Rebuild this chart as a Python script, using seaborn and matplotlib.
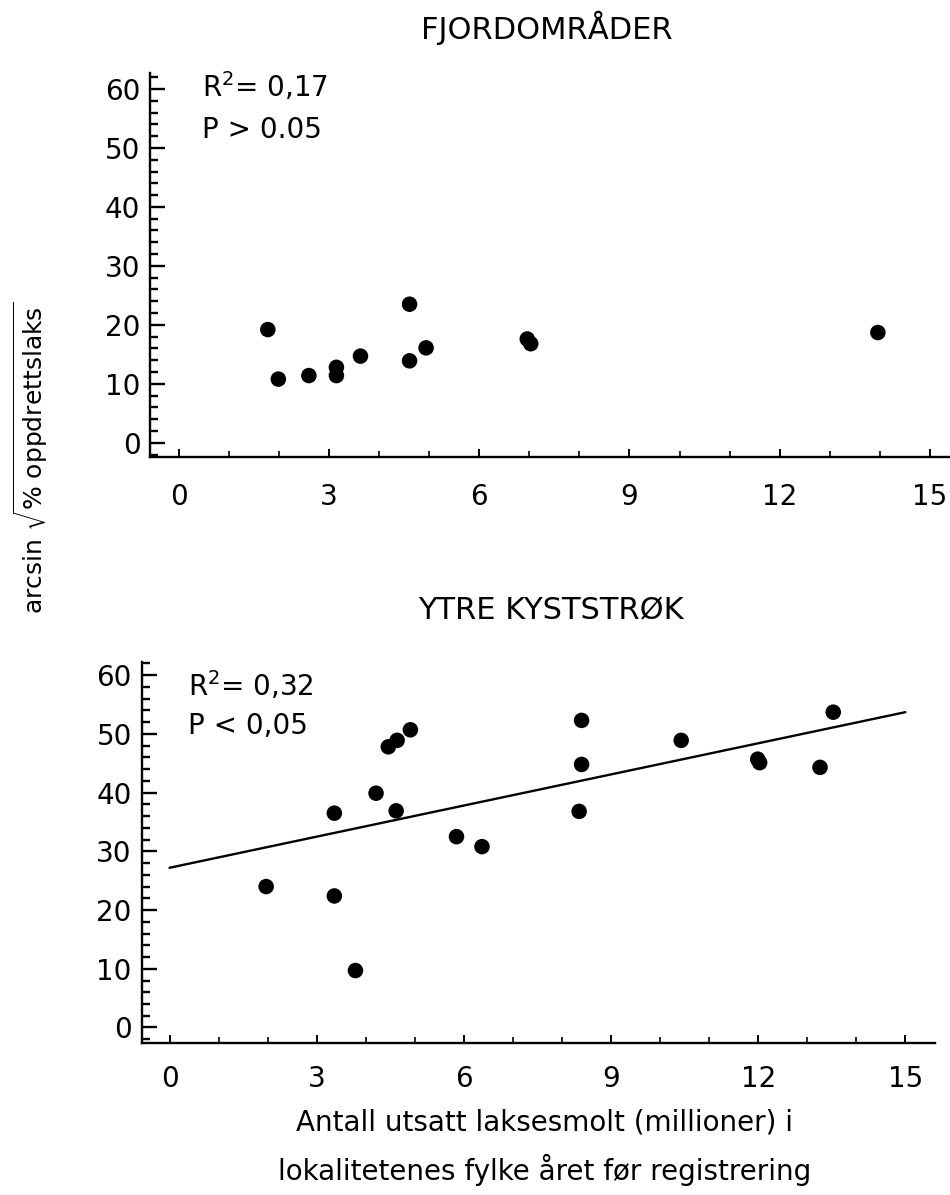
import numpy as np
import pandas as pd
import matplotlib
matplotlib.use("Agg")
import matplotlib.pyplot as plt
import seaborn as sns
from matplotlib.ticker import MultipleLocator

# ---- data ----
fjord_x = [1.78, 1.99, 2.60, 3.15, 3.15, 3.63, 4.61, 4.61, 4.94, 6.96, 7.03, 13.96]
fjord_y = [19.2, 10.8, 11.4, 12.8, 11.4, 14.7, 23.5, 13.9, 16.1, 17.6, 16.8, 18.7]

kyst_x = [1.97, 3.36, 3.36, 3.79, 4.21, 4.46, 4.64, 4.91, 4.62, 5.85, 6.37,
          8.40, 8.40, 8.35, 10.43, 11.99, 12.03, 13.26, 13.53]
kyst_y = [24.0, 36.5, 22.4, 9.7, 39.9, 47.8, 48.9, 50.7, 36.9, 32.5, 30.8,
          52.3, 44.8, 36.8, 48.9, 45.7, 45.1, 44.3, 53.7]

# fitted line shown in lower panel (endpoints)
line_x = [0, 15]
line_y = [27.2, 53.7]

x_ticks = [0, 3, 6, 9, 12, 15]
y_ticks = [0, 10, 20, 30, 40, 50, 60]

titles = ["FJORDOMRÅDER", "YTRE KYSTSTRØK"]
stats = [("R$^2$= 0,17", "P > 0.05"), ("R$^2$= 0,32", "P < 0,05")]

sns.set_style("ticks")
plt.rcParams["font.family"] = ["DejaVu Sans"]
plt.rcParams["mathtext.fontset"] = "dejavusans"
plt.rcParams["text.color"] = "black"

fig = plt.figure(figsize=(9.5, 11.95), dpi=100)
ax1 = fig.add_axes([0.158, 0.6176, 0.842, 0.3213])
ax2 = fig.add_axes([0.149, 0.1274, 0.835, 0.3189])

df1 = pd.DataFrame({"x": fjord_x, "y": fjord_y})
df2 = pd.DataFrame({"x": kyst_x, "y": kyst_y})
dl = pd.DataFrame({"x": line_x, "y": line_y})

sns.scatterplot(data=df1, x="x", y="y", ax=ax1, color="black", s=125,
                edgecolor="none", zorder=3)
sns.scatterplot(data=df2, x="x", y="y", ax=ax2, color="black", s=125,
                edgecolor="none", zorder=3)
sns.lineplot(data=dl, x="x", y="y", ax=ax2, color="black", lw=1.7)

limits = [((-0.57, 15.4), (-2.4, 62.7)), ((-0.57, 15.6), (-2.6, 62.3))]
text_pos = [(0.46, 60.4, 53.0), (0.37, 58.3, 51.3)]
for i, ax in enumerate([ax1, ax2]):
    ax.set_xlim(*limits[i][0])
    ax.set_ylim(*limits[i][1])
    ax.set_xticks(x_ticks)
    ax.set_yticks(y_ticks)
    ax.xaxis.set_minor_locator(MultipleLocator(1))
    ax.yaxis.set_minor_locator(MultipleLocator(2))
    ax.set_xlabel("")
    ax.set_ylabel("")
    sns.despine(ax=ax)
    for sp in ["left", "bottom"]:
        ax.spines[sp].set_linewidth(1.7)
        ax.spines[sp].set_color("black")
    ax.tick_params(axis="y", which="major", direction="in", length=11,
                   width=1.7, labelsize=20, pad=7, colors="black")
    ax.tick_params(axis="y", which="minor", direction="in", length=6,
                   width=1.7, colors="black")
    ax.tick_params(axis="x", which="major", direction="in", length=6,
                   width=1.4, labelsize=20, pad=19 if i == 0 else 16,
                   colors="black")
    ax.tick_params(axis="x", which="minor", direction="in", length=4,
                   width=1.2, colors="black")
    tx, ty1, ty2 = text_pos[i]
    ax.text(tx, ty1, stats[i][0], fontsize=20, va="center", ha="left")
    ax.text(tx, ty2, stats[i][1], fontsize=20, va="center", ha="left")

fig.text(547 / 950, 1 - 27.5 / 1195, titles[0], fontsize=22, ha="center",
         va="center")
fig.text(551 / 950, 1 - 611 / 1195, titles[1], fontsize=22, ha="center",
         va="center")

fig.text(545 / 950, 1 - 1122 / 1195, "Antall utsatt laksesmolt (millioner) i",
         fontsize=20, ha="center", va="center")
fig.text(545 / 950, 1 - 1170 / 1195, "lokalitetenes fylke året før registrering",
         fontsize=20, ha="center", va="center")

fig.text(31 / 950, 1 - 458 / 1195,
         r"arcsin $\sqrt{\mathregular{\%\ oppdrettslaks}}$",
         fontsize=18, rotation=90, ha="center", va="center")

fig.savefig("out.png", dpi=100, facecolor="white")
